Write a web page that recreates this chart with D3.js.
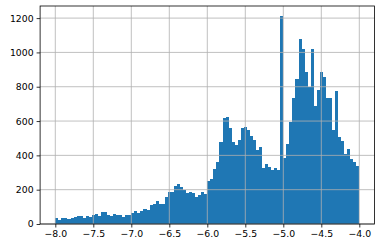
<!DOCTYPE html>
<html>
<head>
<meta charset="utf-8">
<script src="https://cdn.jsdelivr.net/npm/d3@7"></script>
<style>
  html, body { margin: 0; padding: 0; background: #fff; }
  text { font-family: "DejaVu Sans", sans-serif; font-size: 9.3px; fill: #000; }
</style>
</head>
<body>
<script>
// histogram: 100 equal bins between binLo and binHi
const binLo = -8.0;
const binHi = -4.0;
const counts = [
  35, 25, 35, 35, 29, 36, 42, 46, 46, 37,
  46, 42, 52, 58, 48, 69, 69, 54, 48, 60,
  54, 54, 42, 52, 52, 63, 75, 65, 75, 87,
  80, 110, 116, 134, 117, 117, 158, 187, 187, 222,
  233, 216, 198, 181, 187, 181, 158, 169, 187, 175,
  250, 262, 320, 360, 476, 616, 621, 558, 476, 458,
  487, 560, 568, 550, 511, 488, 430, 447, 326, 348,
  332, 314, 324, 314, 1210, 383, 465, 592, 732, 847,
  1080, 1020, 888, 800, 1017, 690, 780, 888, 855, 735,
  735, 550, 776, 508, 484, 409, 438, 379, 362, 339
];
const xTicks = [-8.0, -7.5, -7.0, -6.5, -6.0, -5.5, -5.0, -4.5, -4.0];
const yTicks = [0, 200, 400, 600, 800, 1000, 1200];

const width = 381, height = 248;
const margin = {top: 6, right: 6.5, bottom: 24, left: 40.1};

const svg = d3.select("body").append("svg")
    .attr("width", width)
    .attr("height", height);

const binW = (binHi - binLo) / counts.length;
const bins = counts.map((c, i) => ({x0: binLo + i * binW, x1: binLo + (i + 1) * binW, n: c}));

// matplotlib style 5% x margins
const pad = (binHi - binLo) * 0.05;
const x = d3.scaleLinear()
    .domain([binLo - pad, binHi + pad])
    .range([margin.left, width - margin.right]);

const y = d3.scaleLinear()
    .domain([0, d3.max(counts) * 1.05])
    .range([height - margin.bottom, margin.top]);

// bars
svg.append("g")
  .selectAll("rect")
  .data(bins)
  .join("rect")
    .attr("x", d => x(d.x0))
    .attr("width", d => x(d.x1) - x(d.x0))
    .attr("y", d => y(d.n))
    .attr("height", d => y(0) - y(d.n))
    .attr("fill", "#1f77b4")
    .attr("shape-rendering", "crispEdges");

// grid (drawn above the bars, like matplotlib)
const grid = svg.append("g").attr("stroke", "#b0b0b0").attr("stroke-width", 0.8);
grid.selectAll(".gx")
  .data(xTicks)
  .join("line")
    .attr("x1", d => x(d)).attr("x2", d => x(d))
    .attr("y1", margin.top).attr("y2", height - margin.bottom);
grid.selectAll(".gy")
  .data(yTicks)
  .join("line")
    .attr("y1", d => y(d)).attr("y2", d => y(d))
    .attr("x1", margin.left).attr("x2", width - margin.right);

const fmt = d => d3.format(".1f")(d).replace("-", "\u2212");

const xAxis = svg.append("g")
    .attr("transform", `translate(0,${height - margin.bottom})`)
    .call(d3.axisBottom(x).tickValues(xTicks).tickFormat(fmt).tickSize(3.5).tickPadding(2.5));

const yAxis = svg.append("g")
    .attr("transform", `translate(${margin.left},0)`)
    .call(d3.axisLeft(y).tickValues(yTicks).tickFormat(d3.format("d")).tickSize(3.5).tickPadding(3));

[xAxis, yAxis].forEach(a => {
  a.select(".domain").remove();
  a.selectAll(".tick line").attr("stroke", "#000").attr("stroke-width", 0.8);
  a.selectAll(".tick text").attr("fill", "#000").style("font-size", "9.3px");
});

// spines
svg.append("rect")
    .attr("x", margin.left)
    .attr("y", margin.top)
    .attr("width", width - margin.right - margin.left)
    .attr("height", height - margin.bottom - margin.top)
    .attr("fill", "none")
    .attr("stroke", "#000")
    .attr("stroke-width", 0.8);
</script>
</body>
</html>
